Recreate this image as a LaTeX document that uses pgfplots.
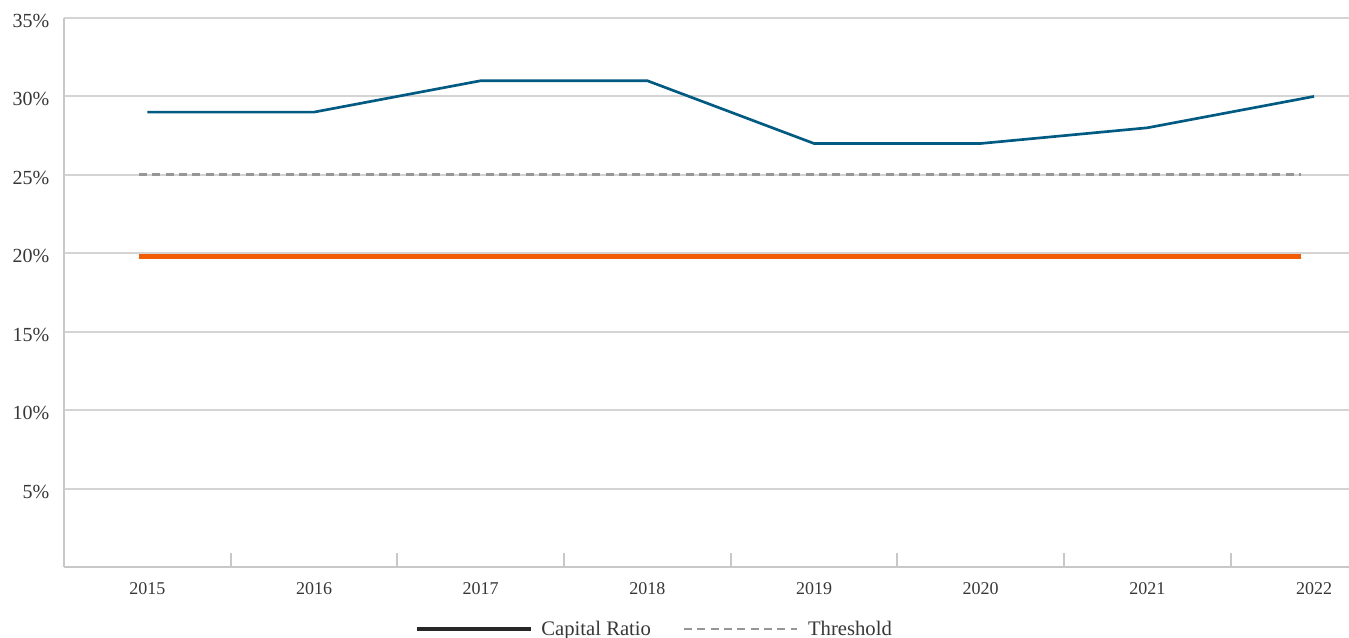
\documentclass[border=0pt]{standalone}
\usepackage{fontspec}
\setmainfont{Liberation Serif}
\usepackage{pgfplots}
\pgfplotsset{compat=1.18}

\definecolor{ratioblue}{RGB}{0,90,130}
\definecolor{floororange}{RGB}{242,92,5}
\definecolor{thresholdgray}{RGB}{150,150,150}
\definecolor{gridgray}{RGB}{212,212,212}
\definecolor{axisgray}{RGB}{200,200,200}
\definecolor{labelgray}{RGB}{55,55,55}

\begin{document}
\begin{tikzpicture}
\useasboundingbox (-48pt,-53.25pt) rectangle (963.75pt,425.25pt);
\begin{axis}[
  at={(0,0)}, anchor=south west,
  scale only axis,
  width=963.75pt, height=411.75pt,
  xmin=-0.5, xmax=7.21,
  ymin=0, ymax=35,
  axis lines=left,
  axis line style={-, draw=axisgray, line width=1.7pt},
  xtick={0,...,7},
  xticklabels={2015,2016,2017,2018,2019,2020,2021,2022},
  major x tick style={draw=none},
  minor xtick={0.5,1.5,2.5,3.5,4.5,5.5,6.5},
  minor tick length=10.5pt,
  minor x tick style={draw=axisgray, line width=1.5pt},
  tick align=inside,
  ytick={5,10,15,20,25,30,35},
  yticklabels={5\%,10\%,15\%,20\%,25\%,30\%,35\%},
  major y tick style={draw=none},
  ymajorgrids,
  y grid style={draw=gridgray, line width=1.6pt},
  tick label style={text=labelgray},
  yticklabel style={font=\fontsize{15}{18}\selectfont, xshift=-7.5pt, yshift=-2.25pt},
  xticklabel style={font=\fontsize{13.5}{16}\selectfont, yshift=-8pt},
  legend columns=2,
  legend style={
    at={(rel axis cs:0.46,0)}, anchor=center, yshift=-46.5pt,
    draw=none, fill=none,
    font=\fontsize{15.5}{18}\selectfont, text=labelgray,
    /tikz/every odd column/.append style={column sep=5pt},
    /tikz/every even column/.append style={column sep=21.75pt},
  },
  legend image code/.code={\draw[#1] (0pt,0pt) -- (85pt,0pt);},
]
% regulatory floor
\addplot[forget plot, floororange, line width=3.75pt] coordinates {(-0.05,19.8) (6.92,19.8)};
% threshold
\addplot[forget plot, thresholdgray, line width=2.2pt, dash pattern=on 6pt off 4pt] coordinates {(-0.05,25) (6.92,25)};
% capital ratio
\addplot[forget plot, ratioblue, line width=2pt, line join=round] coordinates {
  (0,29) (1,29) (2,31) (3,31) (4,27) (5,27) (6,28) (7,30)
};
\addlegendimage{black!85, line width=2.3pt}
\addlegendentry{Capital Ratio}
\addlegendimage{thresholdgray, line width=2pt, dash pattern=on 6pt off 4pt}
\addlegendentry{Threshold}
\end{axis}
\end{tikzpicture}
\end{document}
